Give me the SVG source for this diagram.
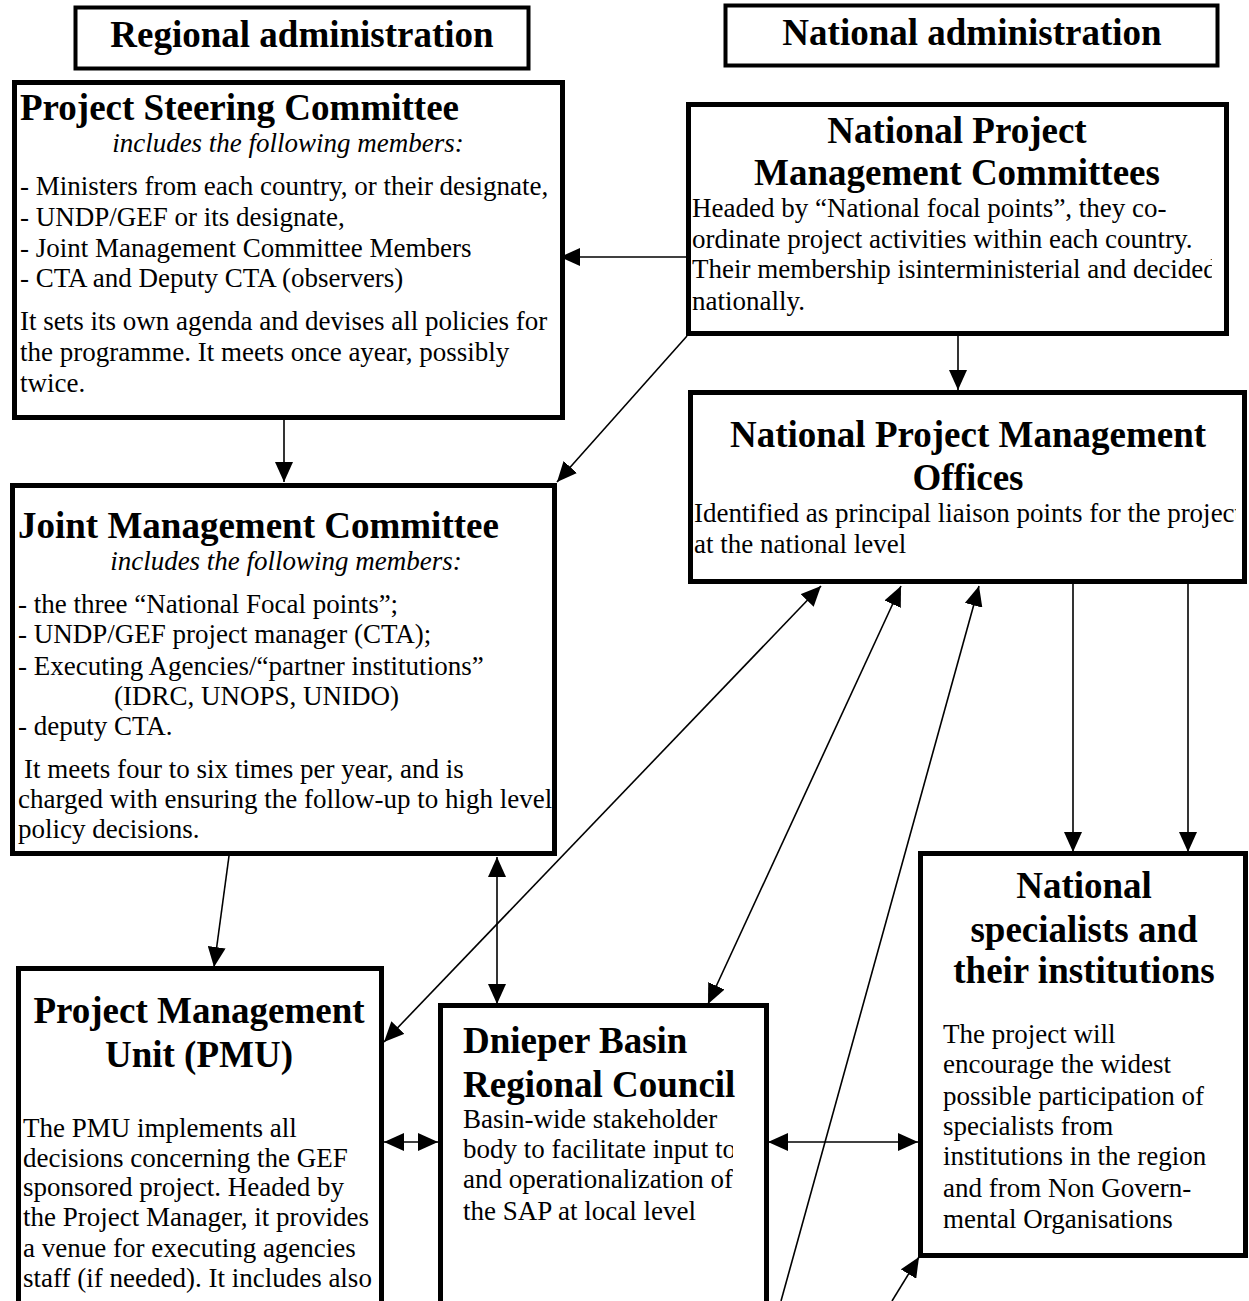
<svg xmlns="http://www.w3.org/2000/svg" width="1249" height="1301" viewBox="0 0 1249 1301">
<style>
.box{fill:#fff;stroke:#000;stroke-width:5}
.hdr{fill:#fff;stroke:#000;stroke-width:4}
.t{font-family:"Liberation Serif","Times New Roman",serif;font-size:37px;font-weight:bold;fill:#000}
.c{text-anchor:middle}
.b{font-family:"Liberation Serif","Times New Roman",serif;font-size:27px;fill:#000}
.i{font-style:italic}
.ln{fill:none;stroke:#000;stroke-width:1.6}
</style>
<defs>
<marker id="ah" viewBox="0 0 20 18" refX="20" refY="9" markerWidth="20" markerHeight="18" markerUnits="userSpaceOnUse" orient="auto-start-reverse">
<path d="M0,0 L20,9 L0,18 z" fill="#000"/>
</marker>
<clipPath id="cNPMC"><rect x="688" y="104" width="524" height="228"/></clipPath>
<clipPath id="cNPMO"><rect x="690" y="392" width="546" height="188"/></clipPath>
<clipPath id="cDBRC"><rect x="440" y="1005" width="293" height="296"/></clipPath>
</defs>

<g id="hdr-regional">
<rect class="hdr" x="75.5" y="7.5" width="453" height="61"/>
<text class="t c" x="302" y="47">Regional administration</text>
</g>
<g id="hdr-national">
<rect class="hdr" x="725.5" y="5.5" width="492" height="60"/>
<text class="t c" x="972" y="45">National administration</text>
</g>

<g id="psc">
<rect class="box" x="14.5" y="82.5" width="548" height="335"/>
<text class="t" x="20" y="120">Project Steering Committee</text>
<text class="b i c" x="288" y="152">includes the following members:</text>
<text class="b" x="20" y="195">- Ministers from each country, or their designate,</text>
<text class="b" x="20" y="226">- UNDP/GEF or its designate,</text>
<text class="b" x="20" y="257">- Joint Management Committee Members</text>
<text class="b" x="20" y="287">- CTA and Deputy CTA (observers)</text>
<text class="b" x="20" y="330">It sets its own agenda and devises all policies for</text>
<text class="b" x="20" y="361">the programme. It meets once ayear, possibly</text>
<text class="b" x="20" y="392">twice.</text>
</g>

<g id="jmc">
<rect class="box" x="12.5" y="485.5" width="542" height="368"/>
<text class="t" x="18" y="538">Joint Management Committee</text>
<text class="b i c" x="286" y="570">includes the following members:</text>
<text class="b" x="18" y="613">- the three “National Focal points”;</text>
<text class="b" x="18" y="643">- UNDP/GEF project manager (CTA);</text>
<text class="b" x="18" y="675">- Executing Agencies/“partner institutions”</text>
<text class="b" x="114" y="705">(IDRC, UNOPS, UNIDO)</text>
<text class="b" x="18" y="735">- deputy CTA.</text>
<text class="b" x="24" y="778">It meets four to six times per year, and is</text>
<text class="b" x="18" y="808">charged with ensuring the follow-up to high level</text>
<text class="b" x="18" y="838">policy decisions.</text>
</g>

<g id="npmc">
<rect class="box" x="688.5" y="104.5" width="538" height="229"/>
<text class="t c" x="957" y="143">National Project</text>
<text class="t c" x="957" y="185">Management Committees</text>
<g clip-path="url(#cNPMC)">
<text class="b" x="692" y="217">Headed by “National focal points”, they co-</text>
<text class="b" x="692" y="248">ordinate project activities within each country.</text>
<text class="b" x="692" y="278">Their membership isinterministerial and decided</text>
<text class="b" x="692" y="310">nationally.</text>
</g>
</g>

<g id="npmo">
<rect class="box" x="690.5" y="392.5" width="554" height="189"/>
<text class="t c" x="968" y="447">National Project Management</text>
<text class="t c" x="968" y="490">Offices</text>
<g clip-path="url(#cNPMO)">
<text class="b" x="694" y="522">Identified as principal liaison points for the project</text>
<text class="b" x="694" y="553">at the national level</text>
</g>
</g>

<g id="ns">
<rect class="box" x="920.5" y="853.5" width="325" height="402"/>
<text class="t c" x="1084" y="898">National</text>
<text class="t c" x="1084" y="942">specialists and</text>
<text class="t c" x="1084" y="983">their institutions</text>
<text class="b" x="943" y="1043">The project will</text>
<text class="b" x="943" y="1073">encourage the widest</text>
<text class="b" x="943" y="1105">possible participation of</text>
<text class="b" x="943" y="1135">specialists from</text>
<text class="b" x="943" y="1165">institutions in the region</text>
<text class="b" x="943" y="1197">and from Non Govern-</text>
<text class="b" x="943" y="1228">mental Organisations</text>
</g>

<g id="pmu">
<rect class="box" x="18.5" y="968.5" width="363" height="400"/>
<text class="t c" x="199" y="1023">Project Management</text>
<text class="t c" x="199" y="1067">Unit (PMU)</text>
<text class="b" x="23" y="1137">The PMU implements all</text>
<text class="b" x="23" y="1167">decisions concerning the GEF</text>
<text class="b" x="23" y="1196">sponsored project. Headed by</text>
<text class="b" x="23" y="1226">the Project Manager, it provides</text>
<text class="b" x="23" y="1257">a venue for executing agencies</text>
<text class="b" x="23" y="1287">staff (if needed). It includes also</text>
</g>

<g id="dbrc">
<rect class="box" x="440.5" y="1005.5" width="326" height="400"/>
<text class="t" x="463" y="1053">Dnieper Basin</text>
<text class="t" x="463" y="1097">Regional Council</text>
<g clip-path="url(#cDBRC)">
<text class="b" x="463" y="1128">Basin-wide stakeholder</text>
<text class="b" x="463" y="1158">body to facilitate input to</text>
<text class="b" x="463" y="1188">and operationalization of</text>
<text class="b" x="463" y="1220">the SAP at local level</text>
</g>
</g>

<g id="connectors">
<path class="ln" d="M686,257 L560,257" marker-end="url(#ah)"/>
<path class="ln" d="M687,336 L557,482" marker-end="url(#ah)"/>
<path class="ln" d="M958,335 L958,390" marker-end="url(#ah)"/>
<path class="ln" d="M284,420 L284,482" marker-end="url(#ah)"/>
<path class="ln" d="M229,856 L214,967" marker-end="url(#ah)"/>
<path class="ln" d="M497,857 L497,1004" marker-start="url(#ah)" marker-end="url(#ah)"/>
<path class="ln" d="M821,586 L384,1042" marker-start="url(#ah)" marker-end="url(#ah)"/>
<path class="ln" d="M901,586 L708,1004" marker-start="url(#ah)" marker-end="url(#ah)"/>
<path class="ln" d="M781,1301 L979,586" marker-end="url(#ah)"/>
<path class="ln" d="M1073,584 L1073,852" marker-end="url(#ah)"/>
<path class="ln" d="M1188,584 L1188,852" marker-end="url(#ah)"/>
<path class="ln" d="M384,1142 L438,1142" marker-start="url(#ah)" marker-end="url(#ah)"/>
<path class="ln" d="M768,1142 L918,1142" marker-start="url(#ah)" marker-end="url(#ah)"/>
<path class="ln" d="M892,1301 L919,1257" marker-end="url(#ah)"/>
</g>
</svg>
